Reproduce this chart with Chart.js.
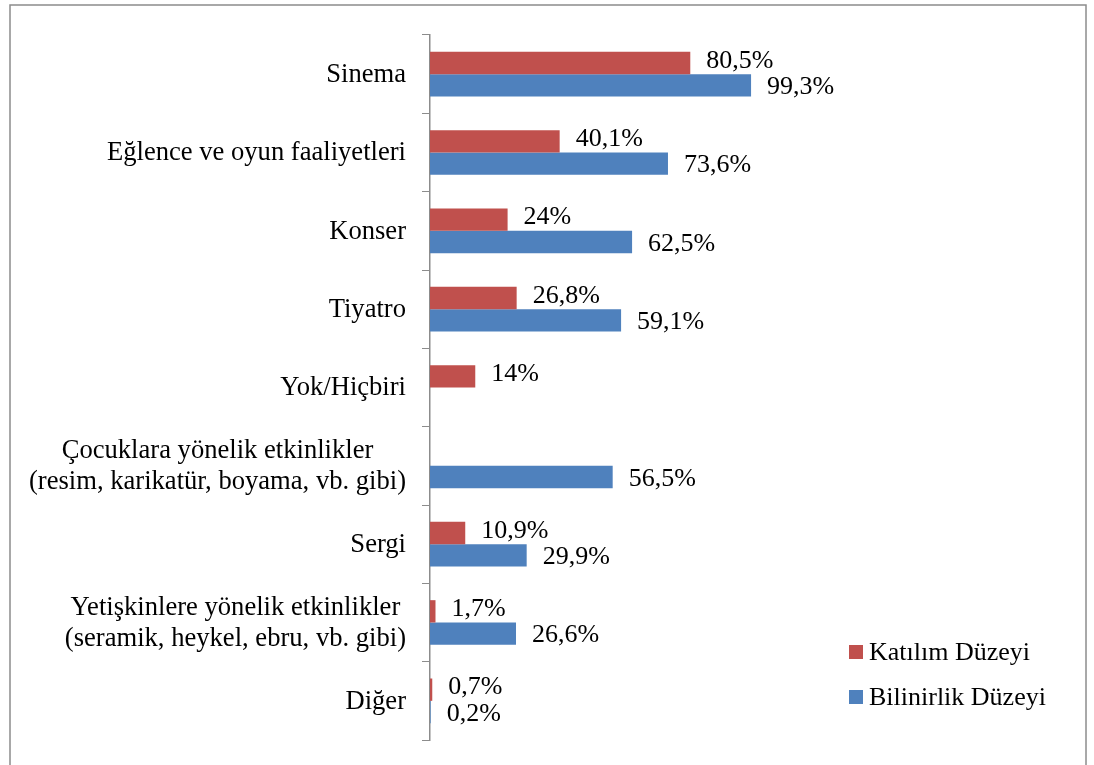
<!DOCTYPE html>
<html lang="tr">
<head>
<meta charset="UTF-8">
<title>Katılım ve Bilinirlik Düzeyi</title>
<script src="https://cdn.jsdelivr.net/npm/chart.js"></script>
<style>
  body {
    margin: 0;
    background: #fff;
  }
  canvas {
    display: block;
  }
</style>
</head>
<body>
<canvas id="activityChart" width="1094" height="765"></canvas>
<script>
const categories = [
  'Sinema',
  'Eğlence ve oyun faaliyetleri',
  'Konser',
  'Tiyatro',
  'Yok/Hiçbiri',
  ['Çocuklara yönelik etkinlikler', '(resim, karikatür, boyama, vb. gibi)'],
  'Sergi',
  ['Yetişkinlere yönelik etkinlikler', '(seramik, heykel, ebru, vb. gibi)'],
  'Diğer'
];
const katilim = [80.5, 40.1, 24, 26.8, 14, null, 10.9, 1.7, 0.7];
const bilinirlik = [99.3, 73.6, 62.5, 59.1, null, 56.5, 29.9, 26.6, 0.2];

const serif = '"Liberation Serif", "Times New Roman", serif';

// frame around the whole chart
const framePlugin = {
  id: 'frame',
  beforeDraw(chart) {
    const ctx = chart.ctx;
    ctx.save();
    ctx.fillStyle = '#fff';
    ctx.fillRect(0, 0, chart.width, chart.height);
    ctx.strokeStyle = '#8c8c8c';
    ctx.lineWidth = 1.5;
    ctx.strokeRect(10, 5, 1076, 800);
    ctx.restore();
  }
};

// category names, centred as a block and right aligned to the axis
const categoryLabels = {
  id: 'categoryLabels',
  afterDraw(chart) {
    const ctx = chart.ctx;
    const y = chart.scales.y;
    const right = chart.chartArea.left - 24;
    ctx.save();
    ctx.font = '26.6px ' + serif;
    ctx.fillStyle = '#000';
    ctx.textAlign = 'center';
    ctx.textBaseline = 'middle';
    categories.forEach((c, i) => {
      const lines = Array.isArray(c) ? c : [c];
      const w = Math.max(...lines.map(l => ctx.measureText(l).width));
      const cx = right - w / 2;
      const cy = y.getPixelForValue(i);
      lines.forEach((l, k) => {
        ctx.fillText(l, cx, cy + (k - (lines.length - 1) / 2) * 31 + 1);
      });
    });
    ctx.restore();
  }
};

// value labels next to the bars
const valueLabels = {
  id: 'valueLabels',
  afterDatasetsDraw(chart) {
    const ctx = chart.ctx;
    ctx.save();
    ctx.font = '26px ' + serif;
    ctx.fillStyle = '#000';
    ctx.textBaseline = 'middle';
    chart.data.datasets.forEach((ds, di) => {
      const meta = chart.getDatasetMeta(di);
      meta.data.forEach((bar, i) => {
        const v = ds.data[i];
        if (v === null) return;
        const txt = String(v).replace('.', ',') + '%';
        const dy = di === 0 ? -2 : 2;
        ctx.fillText(txt, bar.x + 16, bar.y + dy);
      });
    });
    ctx.restore();
  }
};

const legendBox = {
  id: 'legendBox',
  afterDraw(chart) {
    const ctx = chart.ctx;
    ctx.save();
    ctx.font = '26px ' + serif;
    ctx.textBaseline = 'middle';
    chart.data.datasets.forEach((ds, i) => {
      const cy = 652 + i * 45;
      ctx.fillStyle = ds.backgroundColor;
      ctx.fillRect(849, cy - 7, 14, 14);
      ctx.fillStyle = '#000';
      ctx.fillText(ds.label, 869, cy + 1);
    });
    ctx.restore();
  }
};

const ctx = document.getElementById('activityChart').getContext('2d');
new Chart(ctx, {
  type: 'bar',
  data: {
    labels: categories,
    datasets: [{
      label: 'Katılım Düzeyi',
      data: katilim,
      backgroundColor: '#C0504D',
      categoryPercentage: 0.57,
      barPercentage: 1
    }, {
      label: 'Bilinirlik Düzeyi',
      data: bilinirlik,
      backgroundColor: '#4F81BD',
      categoryPercentage: 0.57,
      barPercentage: 1
    }]
  },
  options: {
    indexAxis: 'y',
    responsive: false,
    animation: false,
    layout: {
      padding: { left: 0, top: 35, bottom: 25, right: 276 }
    },
    scales: {
      x: {
        display: false,
        min: 0,
        max: 120
      },
      y: {
        afterFit(scale) {
          scale.width = 430;
        },
        ticks: { display: false },
        grid: {
          drawOnChartArea: false,
          drawTicks: true,
          tickLength: 8,
          color: '#8c8c8c'
        },
        border: { display: true, color: '#8c8c8c', width: 1.5 }
      }
    },
    plugins: {
      legend: { display: false },
      tooltip: { enabled: false }
    }
  },
  plugins: [framePlugin, categoryLabels, valueLabels, legendBox]
});
</script>
</body>
</html>
